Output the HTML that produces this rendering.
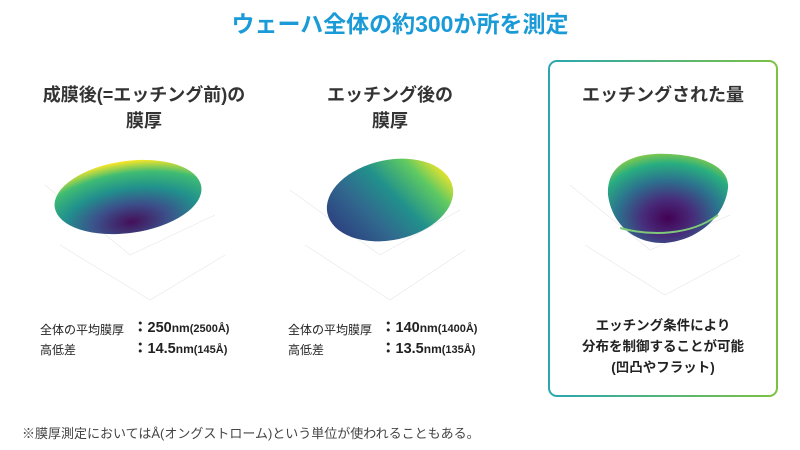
<!DOCTYPE html>
<html><head><meta charset="utf-8"><style>
body{margin:0;width:800px;height:450px;background:#fff;font-family:"Liberation Sans","Noto Sans CJK JP",sans-serif;position:relative;overflow:hidden;color:#333}
.a{position:absolute}
.t{font-weight:bold;font-size:18px;text-align:center;line-height:26px;color:#333}
.s{font-size:12px;line-height:21px;color:#222}
.s b{font-size:14.5px}
.s small{font-size:11px;font-weight:bold}
</style></head><body>
<div class="a" style="left:0;top:5px;width:800px;text-align:center;font-size:23px;font-weight:bold;color:#1a9ad6">ウェーハ全体の約300か所を測定</div>
<div class="a" style="left:548px;top:60px;width:230px;height:337px;border-radius:9px;padding:2px;background:linear-gradient(90deg,#2aa6b2,#7cc242);box-sizing:border-box"><div style="background:#fff;width:100%;height:100%;border-radius:7px"></div></div>
<div class="a t" style="left:0;top:82px;width:288px">成膜後(=エッチング前)の<br>膜厚</div>
<div class="a t" style="left:270px;top:82px;width:240px">エッチング後の<br>膜厚</div>
<div class="a t" style="left:548px;top:82px;width:230px">エッチングされた量</div>
<svg class="a" style="left:0;top:0" width="800" height="450">
<defs>
<radialGradient id="g1" cx="0.5" cy="0.85" r="0.85"><stop offset="0" stop-color="#440f5a"/><stop offset="0.3" stop-color="#3b528b"/><stop offset="0.55" stop-color="#21908d"/><stop offset="0.8" stop-color="#3fbc73"/><stop offset="1" stop-color="#fde725"/></radialGradient>
<linearGradient id="g2" x1="0" y1="0.7" x2="1" y2="0.3"><stop offset="0" stop-color="#2c3e7f"/><stop offset="0.3" stop-color="#31688e"/><stop offset="0.55" stop-color="#21918c"/><stop offset="0.8" stop-color="#5ec962"/><stop offset="1" stop-color="#fde725"/></linearGradient>
<radialGradient id="g3" cx="0.5" cy="0.72" r="0.85"><stop offset="0" stop-color="#440154"/><stop offset="0.25" stop-color="#472d7b"/><stop offset="0.5" stop-color="#2c728e"/><stop offset="0.72" stop-color="#28ae80"/><stop offset="1" stop-color="#d8e219"/></radialGradient>
</defs>
<g stroke="#e6e6e6" stroke-width="0.6" fill="none">
<path d="M45 185 L130 255 L215 215 M60 245 L150 300 L225 255 M290 190 L380 255 L460 210 M305 245 L390 300 L465 250 M570 185 L650 250 L730 215 M585 245 L665 295 L740 255"/>
</g>
<ellipse cx="128" cy="197" rx="74" ry="36" transform="rotate(-8 128 197)" fill="url(#g1)"/>
<ellipse cx="390" cy="200" rx="64" ry="40" transform="rotate(-12 390 200)" fill="url(#g2)"/>
<path d="M608 195 C606 160 640 152 670 154 C705 156 730 168 728 188 C725 215 700 240 665 243 C635 244 612 225 608 195 Z" fill="url(#g3)"/>
<path d="M620 228 C650 236 690 236 718 215" stroke="#7fc97a" stroke-width="2" fill="none"/>
</svg>
<div class="a s" style="left:40px;top:320px">全体の平均膜厚</div>
<div class="a s" style="left:133px;top:318px;font-weight:bold"><b>：250</b>nm<small>(2500Å)</small></div>
<div class="a s" style="left:40px;top:340px">高低差</div>
<div class="a s" style="left:133px;top:339px;font-weight:bold"><b>：14.5</b>nm<small>(145Å)</small></div>
<div class="a s" style="left:288px;top:320px">全体の平均膜厚</div>
<div class="a s" style="left:381px;top:318px;font-weight:bold"><b>：140</b>nm<small>(1400Å)</small></div>
<div class="a s" style="left:288px;top:340px">高低差</div>
<div class="a s" style="left:381px;top:339px;font-weight:bold"><b>：13.5</b>nm<small>(135Å)</small></div>
<div class="a" style="left:548px;top:315px;width:230px;text-align:center;font-size:13.5px;font-weight:bold;line-height:21px;color:#222">エッチング条件により<br>分布を制御することが可能<br>(凹凸やフラット)</div>
<div class="a" style="left:22px;top:423px;font-size:13px;color:#444">※膜厚測定においてはÅ(オングストローム)という単位が使われることもある。</div>
</body></html>
